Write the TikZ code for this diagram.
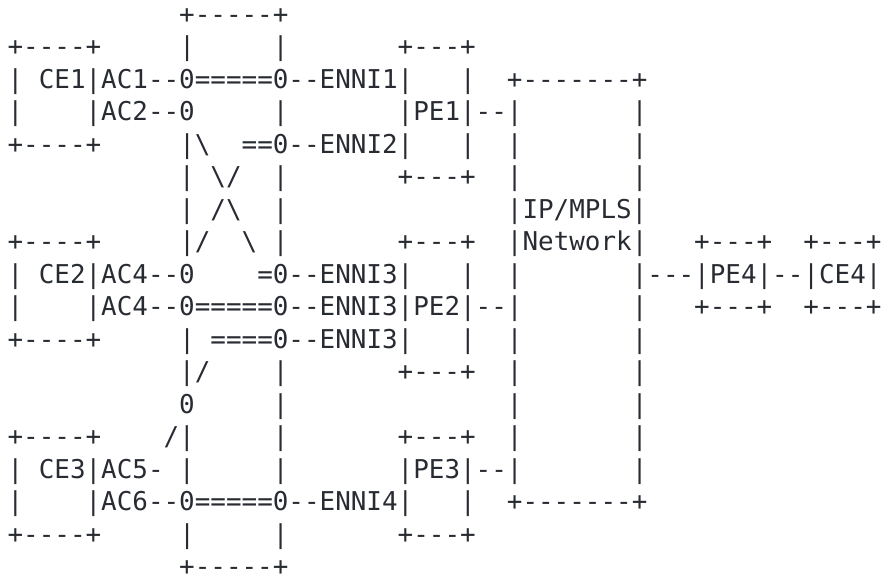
\documentclass[tikz,border=0pt]{standalone}
\usepackage{fontspec}
\newfontfamily\asciifont{DejaVu Sans Mono}
\usepackage{tikz}
\definecolor{inkcolor}{RGB}{40, 44, 50}
\tikzset{
asciirow/.style={
  font=\asciifont\fontsize{12.96pt}{16pt}\selectfont,
  text=inkcolor,
  inner sep=0pt,
  anchor=base west
}
}
% n blank character cells
\newcommand{\gap}[1]{\hskip#1\fontcharwd\font`0\relax}
\newcommand{\bs}{\textbackslash{}}

\begin{document}
\begin{tikzpicture}[x=7.8pt, y=-16.25pt]
  \useasboundingbox (-0.4615,-0.7077) rectangle (56.077,17.046);

  % switch block, CE1 and PE1
  \node[asciirow] (r1)  at (11,0)  {+-----+};
  \node[asciirow] (r2)  at (0,1)   {+----+\gap5|\gap5|\gap7+---+};
  \node[asciirow] (r3)  at (0,2)   {|\gap1CE1|AC1--0=====0--ENNI1|\gap3|\gap2+-------+};
  \node[asciirow] (r4)  at (0,3)   {|\gap4|AC2--0\gap5|\gap7|PE1|--|\gap7|};
  \node[asciirow] (r5)  at (0,4)   {+----+\gap5|\bs\gap2==0--ENNI2|\gap3|\gap2|\gap7|};
  \node[asciirow] (r6)  at (11,5)  {|\gap1\bs/\gap2|\gap7+---+\gap2|\gap7|};
  \node[asciirow] (r7)  at (11,6)  {|\gap1/\bs\gap2|\gap{14}|IP/MPLS|};

  % CE2, PE2 and the far side
  \node[asciirow] (r8)  at (0,7)   {+----+\gap5|/\gap2\bs\gap1|\gap7+---+\gap2|Network|\gap3+---+\gap2+---+};
  \node[asciirow] (r9)  at (0,8)   {|\gap1CE2|AC4--0\gap4=0--ENNI3|\gap3|\gap2|\gap7|---|PE4|--|CE4|};
  \node[asciirow] (r10) at (0,9)   {|\gap4|AC4--0=====0--ENNI3|PE2|--|\gap7|\gap3+---+\gap2+---+};
  \node[asciirow] (r11) at (0,10)  {+----+\gap5|\gap1====0--ENNI3|\gap3|\gap2|\gap7|};
  \node[asciirow] (r12) at (11,11) {|/\gap4|\gap7+---+\gap2|\gap7|};
  \node[asciirow] (r13) at (11,12) {0\gap5|\gap{14}|\gap7|};

  % CE3 and PE3
  \node[asciirow] (r14) at (0,13)  {+----+\gap4/|\gap5|\gap7+---+\gap2|\gap7|};
  \node[asciirow] (r15) at (0,14)  {|\gap1CE3|AC5-\gap1|\gap5|\gap7|PE3|--|\gap7|};
  \node[asciirow] (r16) at (0,15)  {|\gap4|AC6--0=====0--ENNI4|\gap3|\gap2+-------+};
  \node[asciirow] (r17) at (0,16)  {+----+\gap5|\gap5|\gap7+---+};
  \node[asciirow] (r18) at (11,17) {+-----+};
\end{tikzpicture}
\end{document}
